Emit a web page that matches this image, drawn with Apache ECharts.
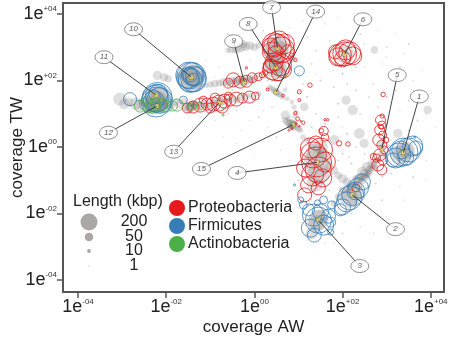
<!DOCTYPE html>
<html>
<head>
<meta charset="utf-8">
<script src="https://cdn.jsdelivr.net/npm/echarts@6/dist/echarts.min.js"></script>
<style>
  html, body { margin: 0; padding: 0; background: #fff; }
  #chart { width: 454px; height: 340px; }
</style>
</head>
<body>
<div id="chart"></div>
<script>
// values are log10(coverage) on both axes, third field = contig length in kbp
var tickVals = [-4, -2, 0, 2, 4];

var grayContigs = [
  [-3.05,1.44,120],[-2.95,1.3,80],[-2.85,1.35,60],[-2.7,1.3,100],[-2.6,1.25,90],[-2.5,1.35,70],
  [-2.4,1.28,150],[-2.3,1.22,200],[-2.2,1.32,250],[-2.1,1.27,120],[-2.0,1.3,80],[-1.9,1.25,60],
  [-1.8,1.35,40],[-1.7,1.28,50],[-1.6,1.38,30],
  [-2.2,2.15,60],[-2.05,2.1,50],[-1.95,2.05,40],[-1.7,2.15,30],
  [-1.43,2.1,500],[-1.4,2.05,350],[-1.47,2.15,250],[-1.42,2.08,150],
  [-2.2,1.45,450],[-2.22,1.35,350],[-2.18,1.5,200],
  [-1.55,1.2,40],[-1.5,1.15,60],[-1.45,1.22,80],[-1.4,1.18,50],[-1.35,1.25,40],[-1.25,1.2,30],
  [-1.2,1.28,50],[-1.1,1.25,40],[-1.0,1.3,60],[-0.9,1.32,50],[-0.8,1.35,80],[-0.7,1.4,60],
  [-0.6,1.38,40],[-0.5,1.45,50],[-0.4,1.42,30],[-0.3,1.5,40],[-0.2,1.52,30],[-0.1,1.55,20],
  [0.0,1.5,15],[0.1,1.6,20],[-1.42,1.3,30],[-1.38,1.32,25],[-1.33,1.28,20],
  [-1.45,1.28,20],[-1.35,1.22,25],[-1.3,1.3,15],
  [-1.1,1.85,20],[-1.0,1.88,30],[-0.9,1.9,40],[-0.8,1.92,30],[-0.7,1.95,50],[-0.6,1.93,40],
  [-0.5,1.98,60],[-0.4,2.0,50],[-0.3,1.95,60],[-0.2,2.02,50],[-0.1,2.05,40],[0.0,2.08,30],
  [0.1,2.1,20],[-0.35,2.03,30],[-0.15,1.98,40],
  [-0.45,1.98,25],[-0.25,2.0,30],[-0.05,2.02,25],[-0.55,1.95,20],[-0.3,1.98,20],
  [-0.5,2.95,60],[-0.4,2.98,80],[-0.3,3.0,70],[-0.2,3.02,60],[-0.1,3.05,50],[0.0,3.0,40],
  [0.1,3.05,30],[-0.25,3.1,40],[-0.6,2.9,20],
  [0.52,2.97,400],[0.48,3.0,300],[0.55,2.9,250],[0.49,2.39,350],[0.45,2.45,250],[0.52,2.35,200],
  [0.85,2.65,40],[0.82,2.7,30],
  [0.35,1.8,20],[0.45,1.7,30],[0.5,1.65,40],[0.55,1.6,30],[0.6,1.55,25],[0.65,1.5,20],
  [0.4,1.75,25],[0.7,1.72,15],[0.75,1.45,15],
  [0.85,1.35,15],[0.9,1.2,20],[0.95,1.05,15],[0.92,0.95,20],
  [0.7,0.8,30],[0.75,0.75,40],[0.8,0.7,50],[0.85,0.68,60],[0.9,0.65,50],[0.95,0.6,40],
  [1.0,0.55,30],[0.82,0.6,30],[0.88,0.72,40],[0.78,0.85,20],[1.05,0.5,20],
  [0.85,0.62,25],[0.9,0.7,20],[0.8,0.65,15],
  [1.1,0.3,20],[1.2,0.2,30],[1.3,0.0,25],[1.5,-0.2,40],[1.6,-0.4,30],[1.7,-0.55,40],
  [1.8,-0.7,50],[1.9,-0.85,40],[2.0,-0.95,60],[2.1,-1.05,50],[2.2,-1.15,70],[2.3,-1.0,60],
  [2.4,-0.9,50],[2.5,-0.8,60],[2.6,-0.7,50],[2.7,-0.55,40],[2.8,-0.4,30],[2.55,-0.6,70],
  [2.45,-0.75,80],[2.35,-0.95,60],[2.65,-0.5,40],[2.0,-1.3,40],[1.9,-1.5,30],[1.8,-1.7,30],
  [2.5,-0.9,30],[2.55,-0.85,25],[2.6,-0.8,30],[2.4,-1.0,25],[2.45,-1.05,20],[2.7,-0.65,25],
  [2.75,-0.6,20],
  [2.35,-1.1,15],[2.42,-0.95,20],[2.5,-0.85,15],[2.58,-0.75,20],[2.63,-0.68,15],[2.68,-0.6,10],
  [2.3,-1.15,20],[2.48,-0.98,12],[2.55,-0.9,18],[2.6,-0.62,12],[2.72,-0.5,10],[2.78,-0.45,10],
  [2.4,-1.2,12],[2.2,-1.25,15],
  [1.42,-0.46,500],[1.4,-0.2,300],[1.45,-0.8,350],[1.38,-1.1,200],[1.5,0.0,150],
  [1.45,-2.2,300],[1.4,-2.3,200],[1.5,-2.1,150],[1.3,-2.6,100],
  [2.2,-1.45,300],[2.15,-1.55,250],[2.28,-1.3,200],
  [3.38,-0.17,300],[3.3,-0.25,250],[3.45,-0.1,200],
  [2.05,2.79,250],[2.9,-0.2,50],[2.88,0.1,40],
  [0.7,0.96,60],[2.23,1.11,70],[2.08,1.41,60],[2.38,0.41,80],[2.49,0.11,60],[2.72,2.92,40],
  [3.93,1.11,50],[1.81,0.21,70],[3.25,0.41,60],[1.13,1.21,50]
];

var grayDust = [
  [0.2,3.5,2],[0.8,3.6,1],[1.2,3.3,2],[1.6,3.7,1],[2.4,3.4,2],[2.8,3.5,1],[3.0,3.0,2],[3.4,2.8,1],
  [3.8,2.3,1],[1.0,2.2,3],[1.3,2.5,2],[1.5,2.0,3],[1.7,2.6,1],[1.8,1.8,2],[2.0,2.2,3],[2.3,1.7,2],
  [2.5,2.4,1],[2.7,1.9,2],[3.0,1.5,3],[3.2,2.0,1],[3.5,1.4,2],[3.9,1.0,1],[4.1,0.6,1],[3.7,0.8,2],
  [1.2,1.5,3],[1.4,1.0,2],[1.6,0.7,3],[1.9,0.9,2],[2.1,0.4,3],[2.3,0.0,2],[2.6,0.3,1],[3.0,0.7,2],
  [3.1,-0.5,1],[3.6,-0.9,2],[3.9,-0.4,1],[3.3,-1.2,1],[2.9,-1.6,2],[2.6,-2.0,1],[2.4,-2.4,1],
  [2.0,-2.6,2],[1.8,-2.9,1],[1.0,-1.0,2],[0.8,-0.4,1],[0.5,0.3,2],[0.3,0.6,1],[0.1,0.9,2],
  [-0.3,0.5,1],[-0.6,1.0,2],[-0.9,0.8,1],[-1.2,0.9,2],[-1.0,1.6,1],[-0.5,1.7,2],[-0.2,2.3,1],
  [0.2,2.5,2],[-0.8,2.4,1],[-1.1,2.6,1],[0.6,3.3,2],[0.9,3.0,1],[2.2,3.0,2],[3.6,2.0,1],
  [-0.4,0.1,1],[0.0,-0.3,1],[-0.7,0.3,1],[1.3,-1.6,1],[1.1,-2.0,2],[0.9,-1.3,1],
  [1.1,3.8,1],[1.9,3.9,1],[2.6,3.7,1],[3.2,3.4,1],[3.5,3.1,2],[0.4,3.9,1],[-0.2,3.6,1],[-0.6,3.4,2],
  [1.4,2.9,2],[1.7,3.2,1],[2.3,2.4,2],[2.9,2.5,1],[3.3,2.4,2],[3.6,1.7,1],[4.0,1.6,1],[2.1,1.9,2],
  [2.6,1.5,2],[1.9,1.3,3],[2.4,1.0,2],[2.8,1.2,2],[3.3,1.1,1],[3.5,0.5,2],[1.3,0.6,2],[1.7,0.2,3],
  [2.0,-0.2,2],[2.2,-0.5,3],[1.9,-0.4,2],[2.5,-0.2,2],[3.1,0.2,1],[3.8,0.2,1],[3.9,-1.0,1],
  [3.4,-1.6,1],[3.0,-2.1,1],[2.7,-2.6,1],[2.2,-2.0,2],[2.5,-1.5,2],[1.7,-1.3,2],[1.0,-0.5,2],
  [0.6,-0.1,1],[0.4,1.2,2],[0.2,1.1,1],[-0.1,0.8,1],[-0.4,1.1,2],[-1.4,0.6,1],[-1.6,1.7,1],
  [-0.9,2.1,1],[-0.1,2.6,1],[0.3,2.0,2],[1.1,1.9,2],[1.4,2.2,1],[0.9,2.4,1],[1.2,0.2,2],[1.5,0.4,2],
  [2.0,0.6,1],[2.7,0.9,1],[3.2,1.7,2],[3.0,2.7,1],[2.5,3.1,1],[1.8,2.3,1],[2.6,-1.2,3],[2.3,-1.7,2],
  [2.05,-2.25,1],[1.6,-2.9,1],[1.2,-2.8,1],[2.9,-0.9,2],[3.1,-0.8,2],[2.75,-1.1,2],[2.15,-0.3,2]
];

var proteobacteria = [
  [-1.39,1.2,100],[-1.23,1.26,136],[-1.07,1.29,100],[-0.93,1.29,136],[-0.8,1.32,178],[-0.68,1.38,136],
  [-0.55,1.41,100],[-0.41,1.44,136],[-0.27,1.47,69],[-0.11,1.5,100],[0.02,1.53,44],[-1.16,1.41,44],
  [-0.89,1.47,69],[-0.59,1.53,44],[-1.0,1.17,69],[-0.73,1.2,100],[-1.52,1.17,69],
  [-0.48,2.02,136],[-0.32,1.95,100],[-0.18,1.98,100],[-0.05,2.08,69],[0.09,2.11,44],[0.18,2.17,25],
  [0.25,2.23,17],[-0.59,1.92,69],[-0.18,2.38,4],
  [0.52,2.97,544],[0.45,3.07,400],[0.61,2.92,470],[0.41,2.86,278],[0.68,3.1,278],[0.55,3.16,336],
  [0.36,3.04,178],[0.75,2.86,136],[0.5,2.77,225],
  [0.5,2.38,470],[0.41,2.32,278],[0.59,2.47,336],[0.45,2.56,225],[0.66,2.32,178],[0.36,2.44,136],
  [0.55,2.2,136],[0.84,2.77,10],[0.93,2.62,8],
  [0.3,1.73,6],[0.65,1.55,5],
  [1.02,1.66,12],[1.02,1.41,6],[0.93,1.02,8],[0.98,0.85,10],[1.11,0.73,8],[1.26,1.86,14],
  [1.6,0.82,4],[1.66,0.82,4],[1.52,0.49,14],[1.6,0.29,40],[1.92,0.11,20],[2.12,0.09,14],
  [2.7,-0.29,30],[2.92,1.58,14],[2.9,0.93,12],[2.88,0.61,14],
  [0.95,0.7,3],[1.02,0.62,2],[0.85,0.55,3],[1.05,0.78,2],[0.78,0.5,2],
  [2.05,2.8,400],[1.95,2.77,336],[2.16,2.83,336],[1.89,2.71,225],[2.23,2.74,225],[2.07,2.92,278],
  [2.0,2.65,178],[1.84,2.86,136],
  [1.41,-0.45,625],[1.34,-0.24,470],[1.5,-0.09,400],[1.27,-0.03,278],[1.45,-0.69,470],[1.32,-0.84,336],
  [1.55,-0.93,225],[1.23,-1.14,178],[1.45,-1.23,136],[1.16,-0.63,225],[1.61,-0.45,278],[1.39,0.12,136],
  [1.14,-1.44,136],[1.57,0.48,60],
  [2.86,0.81,69],[2.89,0.66,44],[2.84,0.51,69],[2.91,0.36,44],[2.82,0.21,100],[2.89,0.06,69],
  [2.95,-0.09,44],[2.84,-0.24,100],[2.91,-0.39,69],[2.8,-0.54,100],[2.89,-0.69,69],[2.77,-0.33,44],
  [2.98,0.21,25],[2.3,-1.23,44]
];

var firmicutes = [
  [3.39,-0.15,544],[3.27,-0.24,400],[3.5,-0.09,400],[3.2,-0.33,278],[3.59,0.03,278],[3.32,-0.09,225],
  [3.43,-0.3,178],[3.14,-0.39,136],[3.66,-0.03,136],[3.64,0.3,3],
  [2.23,-1.44,336],[2.09,-1.65,278],[2.36,-1.23,278],[2.0,-1.8,178],[2.45,-1.05,178],[2.16,-1.53,400],
  [2.3,-1.32,225],[1.95,-1.89,100],
  [1.45,-2.2,470],[1.34,-2.05,336],[1.57,-2.35,278],[1.27,-2.44,225],[1.5,-1.95,178],[1.68,-2.08,136],
  [1.23,-1.89,100],[1.36,-2.65,136],[1.73,-2.26,69],[1.11,-1.74,44],[1.75,-1.74,44],[1.57,-1.59,44],
  [1.43,-1.68,25],[1.73,-2.56,25],[1.05,-1.59,25],[0.91,-1.14,3],
  [-1.43,2.1,600],[-1.48,2.15,500],[-1.38,2.05,450],[-1.45,2.0,400],[-1.4,2.2,350],[-1.5,2.08,300],
  [-1.35,2.12,250],[-1.42,2.1,200],[-1.46,2.18,150],[-1.39,2.02,120],
  [-2.23,1.35,620],[-2.2,1.5,600],[-2.25,1.45,500],[-2.15,1.4,450],[-2.22,1.55,350],[-2.28,1.38,300],
  [-2.18,1.6,250],[-2.3,1.5,150],[-2.82,1.44,117],[-1.61,1.41,44],[1.02,2.29,69]
];

var actinobacteria = [
  [-2.59,1.23,100],[-2.45,1.29,136],[-2.32,1.2,100],[-2.14,1.26,136],[-2.0,1.23,100],[-1.86,1.23,69],
  [-1.75,1.26,100],[-2.25,1.3,69],[-2.4,1.18,69],[-1.45,1.2,20],[-1.23,1.23,44],[-0.71,0.96,3],
  [-0.71,1.16,2]
];

var binIds = ['1','2','3','4','5','6','7','8','9','10','11','12','13','14','15'];
var binCenters = [
  [3.38,-0.17],[2.22,-1.44],[1.45,-2.2],[1.42,-0.46],[2.89,-0.06],[2.05,2.79],[0.52,2.97],[0.49,2.39],
  [-0.23,1.95],[-1.43,2.1],[-2.23,1.56],[-2.21,1.23],[-0.8,1.33],[0.49,1.65],[0.88,0.67]
];
var tagPositions = [
  [3.74,1.52],[3.2,-2.47],[2.39,-3.58],[-0.39,-0.78],[3.24,2.16],[2.46,3.84],[0.39,4.2],[-0.14,3.7],
  [-0.47,3.18],[-2.74,3.54],[-3.41,2.7],[-3.31,0.43],[-1.83,-0.14],[1.39,4.07],[-1.2,-0.66]
];

var legendSizes = [200, 50, 10, 1];
var phyla = ['Proteobacteria', 'Firmicutes', 'Actinobacteria'];
var phylumColors = ['#e41a1c', '#377eb8', '#4daf4a'];

var FONT = "'Liberation Sans', Arial, sans-serif";
function sizeOf(kbp) { return Math.max(1, 1.2 * Math.sqrt(kbp)); }
function expLabel(v) {
  var s = v === 0 ? '00' : (v > 0 ? '+' : '-') + ('0' + Math.abs(v)).slice(-2);
  return '{a|1e}{b|' + s + '}';
}
var labelRich = {
  a: { fontSize: 18, color: '#222', fontFamily: FONT },
  b: { fontSize: 8, color: '#333', fontFamily: FONT, verticalAlign: 'top', padding: [0, 0, 8, 0] }
};

function axisBase(name, gap, minV, maxV) {
  return {
    type: 'value', min: minV, max: maxV,
    name: name, nameLocation: 'middle', nameGap: gap, nameMoveOverlap: false,
    nameTextStyle: { fontSize: 17, color: '#222', fontFamily: FONT, verticalAlign: 'middle' },
    axisLine: { show: false, onZero: false },
    axisTick: { show: true, length: 6, customValues: tickVals, lineStyle: { color: '#555', width: 1.5 } },
    axisLabel: { customValues: tickVals, formatter: expLabel, rich: labelRich, margin: 6 },
    splitLine: { show: false }
  };
}

function ringSeries(data, color) {
  return {
    type: 'scatter', data: data, z: 3, silent: true,
    symbolSize: function (v) { return sizeOf(v[2]); },
    itemStyle: { color: 'rgba(0,0,0,0)', borderColor: color, borderWidth: 1 }
  };
}

var leaderLines = binCenters.map(function (c, i) { return { coords: [tagPositions[i], c] }; });
var tags = tagPositions.map(function (p, i) { return [p[0], p[1], binIds[i]]; });

var graphics = [
  { type: 'text', x: 73, y: 202, style: { text: 'Length (kbp)', fontSize: 16, fontFamily: FONT, fill: '#222', verticalAlign: 'middle' } }
];
var sizeRowY = [222, 237, 251, 266];
legendSizes.forEach(function (k, i) {
  graphics.push({ type: 'circle', shape: { cx: 89, cy: sizeRowY[i], r: sizeOf(k) / 2 }, style: { fill: '#aba7a7' } });
  graphics.push({ type: 'text', x: 134, y: sizeRowY[i], style: { text: String(k), fontSize: 16, fontFamily: FONT, fill: '#222', align: 'center', verticalAlign: 'middle' } });
});
phyla.forEach(function (p, i) {
  var cy = 208 + i * 18;
  graphics.push({ type: 'circle', shape: { cx: 177, cy: cy, r: 8 }, style: { fill: phylumColors[i] } });
  graphics.push({ type: 'text', x: 188, y: cy, style: { text: p, fontSize: 16, fontFamily: FONT, fill: '#222', verticalAlign: 'middle' } });
});

var chart = echarts.init(document.getElementById('chart'), null, { renderer: 'canvas' });
chart.setOption({
  animation: false,
  backgroundColor: '#fff',
  grid: {
    left: 63, right: 10, top: 3, bottom: 48, show: true, borderColor: '#555', borderWidth: 2,
    containLabel: false, outerBoundsMode: 'none'
  },
  xAxis: axisBase('coverage AW', 35, -4.34, 4.3),
  yAxis: axisBase('coverage TW', 46, -4.36, 4.33),
  graphic: graphics,
  series: [
    {
      type: 'scatter', data: grayDust, z: 1, silent: true,
      symbolSize: function (v) { return sizeOf(v[2]); },
      itemStyle: { color: 'rgba(120,120,120,0.45)' }
    },
    {
      type: 'scatter', data: grayContigs, z: 2, silent: true,
      symbolSize: function (v) { return sizeOf(v[2]); },
      itemStyle: { color: 'rgba(110,110,110,0.28)' }
    },
    ringSeries(proteobacteria, phylumColors[0]),
    ringSeries(firmicutes, phylumColors[1]),
    ringSeries(actinobacteria, phylumColors[2]),
    {
      type: 'scatter', data: binCenters, z: 4, silent: true, symbol: 'rect', symbolSize: 4,
      itemStyle: { color: '#f6f060', borderColor: '#333', borderWidth: 0.4 }
    },
    {
      type: 'lines', coordinateSystem: 'cartesian2d', data: leaderLines, z: 5, silent: true,
      lineStyle: { color: '#444', width: 1, opacity: 1 }
    },
    {
      type: 'scatter', data: tags, z: 6, silent: true, symbol: 'circle', symbolSize: [18, 13],
      itemStyle: { color: '#fff', borderColor: '#555', borderWidth: 0.8 },
      label: {
        show: true, position: 'inside', formatter: function (p) { return p.value[2]; },
        fontSize: 8, fontStyle: 'italic', color: '#333', fontFamily: FONT
      }
    }
  ]
});
</script>
</body>
</html>
